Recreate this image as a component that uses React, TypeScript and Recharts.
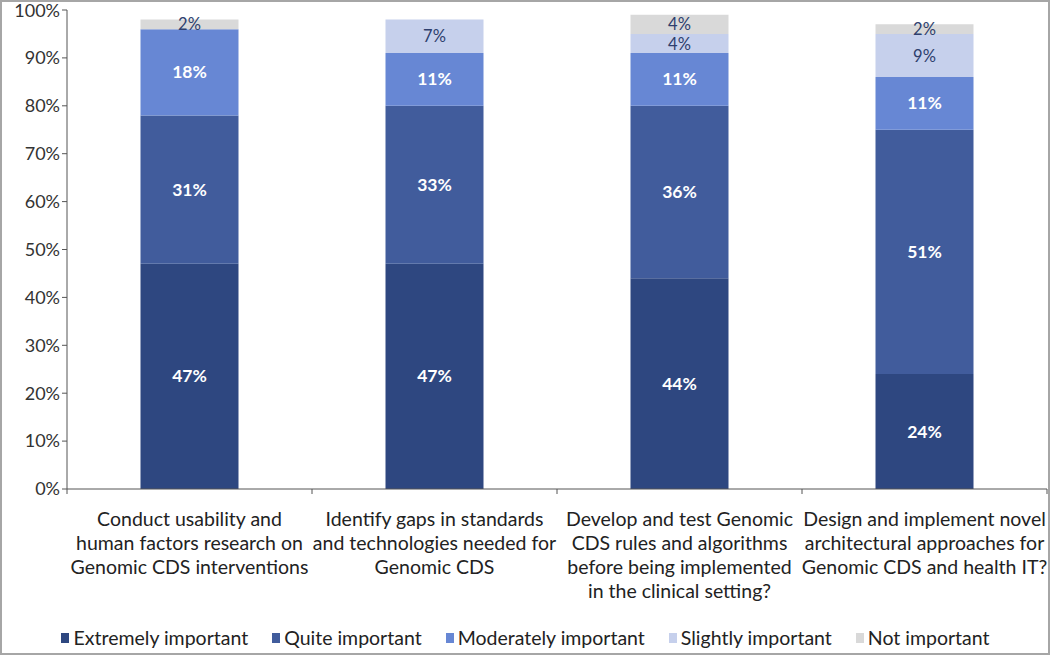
import React from "react";
import { BarChart, Bar, XAxis, YAxis, Legend, LabelList } from "recharts";

const categories = [
  "Conduct usability and\nhuman factors research on\nGenomic CDS interventions",
  "Identify gaps in standards\nand technologies needed for\nGenomic CDS",
  "Develop and test Genomic\nCDS rules and algorithms\nbefore being implemented\nin the clinical setting?",
  "Design and implement novel\narchitectural approaches for\nGenomic CDS and health IT?",
];
const extremely = [47, 47, 44, 24];
const quite = [31, 33, 36, 51];
const moderately = [18, 11, 11, 11];
const slightly = [0, 7, 4, 9];
const notImportant = [2, 0, 4, 2];
const yTicks = [0, 10, 20, 30, 40, 50, 60, 70, 80, 90, 100];

const series = [
  { key: "extremely", name: "Extremely important", color: "#2E4780", label: "#ffffff", bold: true, values: extremely },
  { key: "quite", name: "Quite important", color: "#415C9C", label: "#ffffff", bold: true, values: quite },
  { key: "moderately", name: "Moderately important", color: "#6787D4", label: "#ffffff", bold: true, values: moderately },
  { key: "slightly", name: "Slightly important", color: "#C6D0EC", label: "#2E3F6E", bold: false, values: slightly },
  { key: "notImportant", name: "Not important", color: "#D9D9D9", label: "#2E3F6E", bold: false, values: notImportant },
];

const data = categories.map((c, i) => {
  const row: any = { cat: c, idx: i };
  series.forEach((s) => (row[s.key] = s.values[i]));
  return row;
});

const FONT = "Lato, 'Noto Sans', sans-serif";

const CatTick = (props: any) => {
  const { x, y, payload, index, visibleTicksCount } = props;
  const lines = String(payload.value).split("\n");
  const off = payload.offset || 0;
  return (
    <g transform={`translate(${x},${y})`}>
      {off > 0 && <line x1={-off} x2={-off} y1={-8} y2={-3} stroke="#555" />}
      {off > 0 && index === (visibleTicksCount ?? 4) - 1 && (
        <line x1={off} x2={off} y1={-8} y2={-3} stroke="#555" />
      )}
      {lines.map((l: string, i: number) => (
        <text key={i} x={0} y={29 + i * 24} textAnchor="middle" fontSize={19.5} fill="#222" fontFamily={FONT}>
          {l}
        </text>
      ))}
    </g>
  );
};

const makeLabel = (color: string, bold: boolean) => (props: any) => {
  const { x, y, width, height, value } = props;
  if (!value) return null;
  return (
    <text
      x={x + width / 2}
      y={y + height / 2 + 6}
      textAnchor="middle"
      fontSize={bold ? 17.5 : 16.5}
      fontWeight={bold ? "bold" : "normal"}
      fill={color}
      fontFamily={FONT}
    >
      {value}%
    </text>
  );
};

const LegendContent = () => (
  <div style={{ display: "flex", justifyContent: "center", gap: 24, fontFamily: FONT, fontSize: 19.5, color: "#222", paddingTop: 6, paddingLeft: 4 }}>
    {series.map((s) => (
      <div key={s.key} style={{ display: "flex", alignItems: "center" }}>
        <span style={{ display: "inline-block", width: 8, height: 10, background: s.color, marginRight: 4 }} />
        <span>{s.name}</span>
      </div>
    ))}
  </div>
);

export default function App() {
  return (
    <div style={{ position: "fixed", left: 0, top: 0, width: 1050, height: 655, background: "#fff" }}>
      <div style={{ position: "absolute", left: 0, top: 0, width: 1046, height: 651, border: "2px solid #A6A6A6" }} />
      <BarChart
        width={1050}
        height={655}
        data={data}
        margin={{ top: 10, right: 3, left: 0, bottom: 0 }}
        barCategoryGap="30%"
      >
        <XAxis
          dataKey="cat"
          interval={0}
          height={131}
          tick={<CatTick />}
          tickLine={false}
          axisLine={{ stroke: "#555" }}
        />
        <YAxis
          domain={[0, 100]}
          ticks={yTicks}
          width={67}
          tickFormatter={(v: number) => `${v}%`}
          tick={{ fontSize: 18, fill: "#333", fontFamily: FONT }}
          axisLine={{ stroke: "#555" }}
          tickLine={{ stroke: "#555" }}
          tickSize={5}
        />
        <Legend verticalAlign="bottom" height={35} content={<LegendContent />} />
        {series.map((s) => (
          <Bar key={s.key} dataKey={s.key} name={s.name} stackId="a" fill={s.color} isAnimationActive={false}>
            <LabelList dataKey={s.key} content={makeLabel(s.label, s.bold)} />
          </Bar>
        ))}
      </BarChart>
    </div>
  );
}
